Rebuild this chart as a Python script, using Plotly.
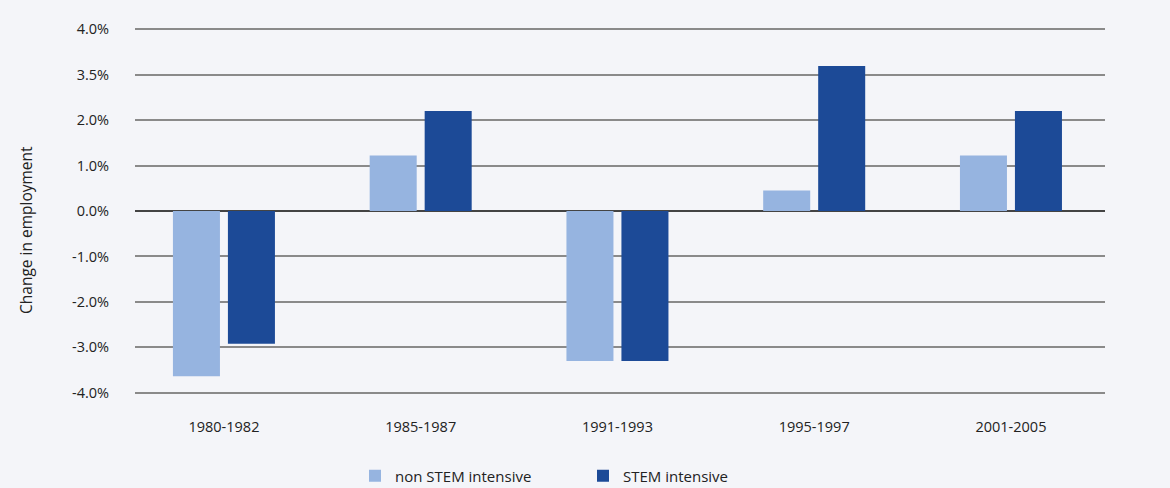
import plotly.graph_objects as go

categories = ["1980-1982", "1985-1987", "1991-1993", "1995-1997", "2001-2005"]
non_stem = [-3.64, 1.22, -3.30, 0.45, 1.22]
stem = [-2.92, 2.20, -3.30, 3.19, 2.20]
y_tickvals = [-4, -3, -2, -1, 0, 1, 2, 3, 4]
y_ticktext = ["-4.0%", "-3.0%", "-2.0%", "-1.0%", "0.0%", "1.0%", "2.0%", "3.5%", "4.0%"]

BG = "#f4f5f9"
FONT = "Open Sans, Noto Sans, sans-serif"

fig = go.Figure()
fig.add_trace(go.Bar(x=categories, y=non_stem, name="non STEM intensive",
                     marker=dict(color="#96b4e0", line=dict(width=0))))
fig.add_trace(go.Bar(x=categories, y=stem, name="STEM intensive",
                     marker=dict(color="#1c4a97", line=dict(width=0))))

fig.update_layout(
    width=1170, height=488,
    paper_bgcolor=BG, plot_bgcolor=BG,
    margin=dict(l=135, r=65, t=27, b=93),
    barmode="group", bargap=0.441, bargroupgap=0.145,
    font=dict(family=FONT, size=14, color="#222"),
    showlegend=True,
    legend=dict(orientation="h", x=(355 - 135) / 970, xref="paper", xanchor="left",
                y=(488 - 476) / 488, yref="container", yanchor="middle",
                bgcolor="rgba(0,0,0,0)", font=dict(size=15, color="#222"),
                entrywidth=183, traceorder="normal"),
    xaxis=dict(range=[-0.452, 4.478], showgrid=False, showline=False,
               ticks="outside", ticklen=19,
               tickcolor="rgba(0,0,0,0)", tickfont=dict(size=14.5), automargin=False),
    yaxis=dict(range=[-4.05, 4.05], tickvals=y_tickvals, ticktext=y_ticktext,
               showgrid=True, gridcolor="#8a8a8a", gridwidth=1.5,
               zeroline=True, zerolinecolor="#444", zerolinewidth=1.5,
               ticks="outside", ticklen=22, tickcolor="rgba(0,0,0,0)",
               tickfont=dict(size=14.5), showline=False, automargin=False),
)
fig.add_annotation(text="Change in employment", textangle=-90,
                   x=(26 - 135) / 970, y=(395 - 230) / 368,
                   xanchor="center", yanchor="middle",
                   xref="paper", yref="paper", showarrow=False,
                   font=dict(size=15.5, color="#222"))

fig.write_html("out.html", config={"displayModeBar": False})

with open("out.html", "r", encoding="utf-8") as f:
    html = f.read()
html = html.replace("<body>", '<body style="margin:0;padding:0;background:#f4f5f9;overflow:hidden">', 1)
with open("out.html", "w", encoding="utf-8") as f:
    f.write(html)
